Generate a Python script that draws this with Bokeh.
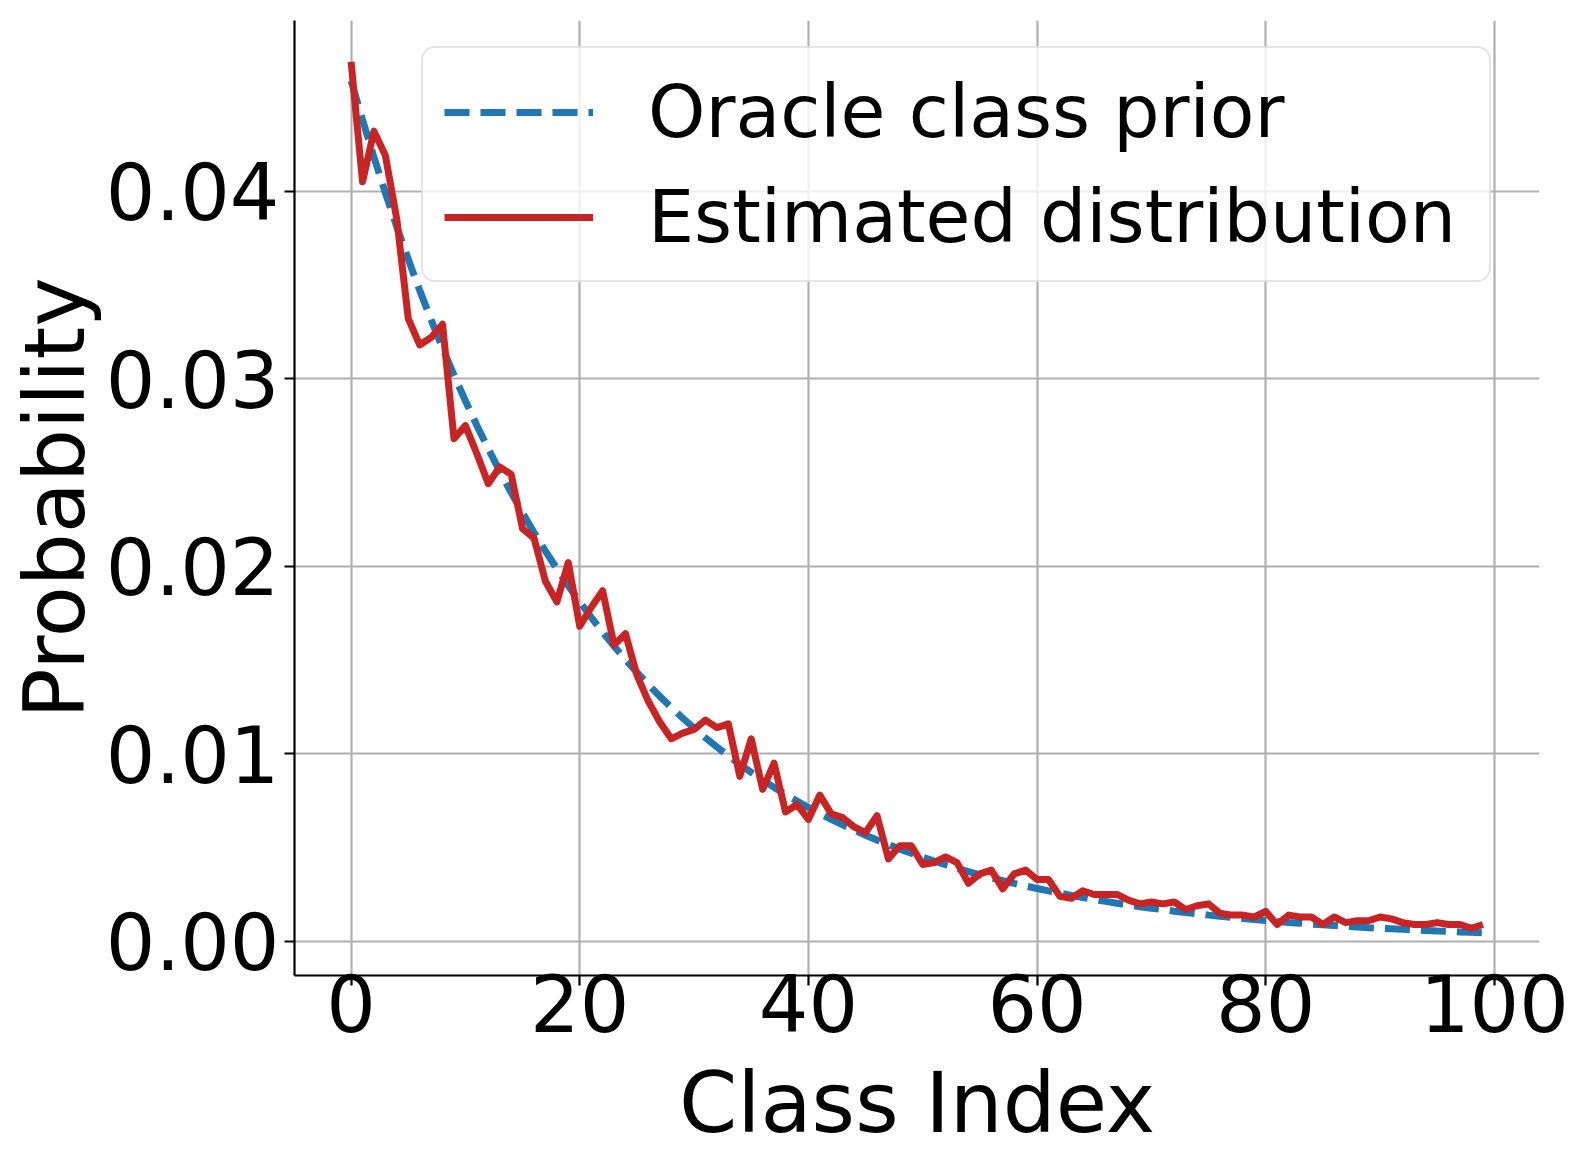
from bokeh.plotting import figure
from bokeh.models import Range1d, FixedTicker, PrintfTickFormatter, Legend, LegendItem, ColumnDataSource
from bokeh.embed import file_html
from bokeh.resources import INLINE

class_index = list(range(100))

oracle_prior = [
    0.04589, 0.04381, 0.04181, 0.03991, 0.03810, 0.03637, 0.03471, 0.03314, 0.03163, 0.03019,
    0.02882, 0.02751, 0.02626, 0.02507, 0.02393, 0.02284, 0.02180, 0.02081, 0.01987, 0.01896,
    0.01810, 0.01728, 0.01649, 0.01574, 0.01503, 0.01434, 0.01369, 0.01307, 0.01248, 0.01191,
    0.01137, 0.01085, 0.01036, 0.00989, 0.00944, 0.00901, 0.00860, 0.00821, 0.00784, 0.00748,
    0.00714, 0.00682, 0.00651, 0.00621, 0.00593, 0.00566, 0.00540, 0.00516, 0.00492, 0.00470,
    0.00448, 0.00428, 0.00409, 0.00390, 0.00372, 0.00355, 0.00339, 0.00324, 0.00309, 0.00295,
    0.00282, 0.00269, 0.00257, 0.00245, 0.00234, 0.00223, 0.00213, 0.00203, 0.00194, 0.00185,
    0.00177, 0.00169, 0.00161, 0.00154, 0.00147, 0.00140, 0.00134, 0.00128, 0.00122, 0.00116,
    0.00111, 0.00106, 0.00101, 0.00097, 0.00092, 0.00088, 0.00084, 0.00080, 0.00077, 0.00073,
    0.00070, 0.00067, 0.00064, 0.00061, 0.00058, 0.00055, 0.00053, 0.00050, 0.00048, 0.00046,
]

estimated = [
    0.0469, 0.0405, 0.0432, 0.0419, 0.0385, 0.0332, 0.0318, 0.0322, 0.0329, 0.0268,
    0.0275, 0.0260, 0.0244, 0.0253, 0.0249, 0.0220, 0.0215, 0.0192, 0.0181, 0.0202,
    0.0168, 0.0178, 0.0187, 0.0158, 0.0164, 0.0142, 0.0128, 0.0117, 0.0108, 0.0111,
    0.0113, 0.0118, 0.0114, 0.0116, 0.0088, 0.0108, 0.0081, 0.0095, 0.0069, 0.0073,
    0.0065, 0.0078, 0.0068, 0.0066, 0.0061, 0.0058, 0.0067, 0.0044, 0.0051, 0.0051,
    0.0041, 0.0042, 0.0045, 0.0042, 0.0031, 0.0036, 0.0038, 0.0028, 0.0036, 0.0038,
    0.0033, 0.0033, 0.0024, 0.0023, 0.0027, 0.0025, 0.0025, 0.0025, 0.0022, 0.0020,
    0.0021, 0.0020, 0.0021, 0.0017, 0.0019, 0.0020, 0.0015, 0.0014, 0.0014, 0.0013,
    0.0016, 0.0009, 0.0014, 0.0013, 0.0013, 0.0009, 0.0013, 0.0010, 0.0011, 0.0011,
    0.0013, 0.0012, 0.0010, 0.0009, 0.0009, 0.0010, 0.0009, 0.0009, 0.0007, 0.0009,
]

x_ticks = [0, 20, 40, 60, 80, 100]
y_ticks = [0.0, 0.01, 0.02, 0.03, 0.04]
label_oracle = "Oracle class prior"
label_est = "Estimated distribution"

FONT = "DejaVu Sans"

p = figure(width=1570, height=1160, output_backend="svg", toolbar_location=None,
           x_range=Range1d(-4.95, 103.95), y_range=Range1d(-0.00182, 0.0491),
           min_border_left=294, min_border_right=31, min_border_top=20, min_border_bottom=185)
p.outline_line_color = None
p.background_fill_color = "white"
p.border_fill_color = "white"

src = ColumnDataSource(dict(x=class_index, oracle=oracle_prior, est=estimated))
r1 = p.line("x", "oracle", source=src, line_color="#1f77b4", line_width=7, line_dash="25 11")
r2 = p.line("x", "est", source=src, line_color="#c82423", line_width=7, line_join="round")

for ax in (p.xaxis[0], p.yaxis[0]):
    ax.axis_line_color = "black"
    ax.axis_line_width = 2.2
    ax.major_tick_line_color = "black"
    ax.major_tick_line_width = 2.2
    ax.major_tick_out = 10
    ax.major_tick_in = 0
    ax.minor_tick_line_color = None
    ax.major_label_text_font = FONT
    ax.major_label_text_font_size = "78px"
    ax.major_label_text_color = "black"
    ax.axis_label_text_font = FONT
    ax.axis_label_text_font_size = "83.5px"
    ax.axis_label_text_font_style = "normal"
    ax.axis_label_text_color = "black"

p.xaxis.ticker = FixedTicker(ticks=x_ticks)
p.yaxis.ticker = FixedTicker(ticks=y_ticks)
p.yaxis.formatter = PrintfTickFormatter(format="%.2f")
p.xaxis.axis_label = "Class Index"
p.yaxis.axis_label = "Probability"
p.xaxis.major_label_standoff = -12
p.yaxis.major_label_standoff = 5
p.xaxis.axis_label_standoff = 19
p.yaxis.axis_label_standoff = -1

p.xgrid.ticker = FixedTicker(ticks=x_ticks)
p.ygrid.ticker = FixedTicker(ticks=y_ticks)
p.grid.grid_line_color = "#b0b0b0"
p.grid.grid_line_width = 2.2

legend = Legend(items=[LegendItem(label=label_oracle, renderers=[r1]),
                       LegendItem(label=label_est, renderers=[r2])],
                location=(127, 693))
legend.label_text_font = FONT
legend.label_text_font_size = "73px"
legend.label_text_color = "black"
legend.glyph_width = 149
legend.label_standoff = 55
legend.label_width = 820
legend.padding = 21
legend.spacing = 20
legend.margin = 0
legend.border_line_color = "#cccccc"
legend.border_line_width = 2
legend.background_fill_color = "white"
legend.background_fill_alpha = 0.8
if "border_radius" in legend.properties():
    legend.border_radius = 14
p.add_layout(legend, "center")

open("out.html", "w").write(file_html(p, INLINE))
